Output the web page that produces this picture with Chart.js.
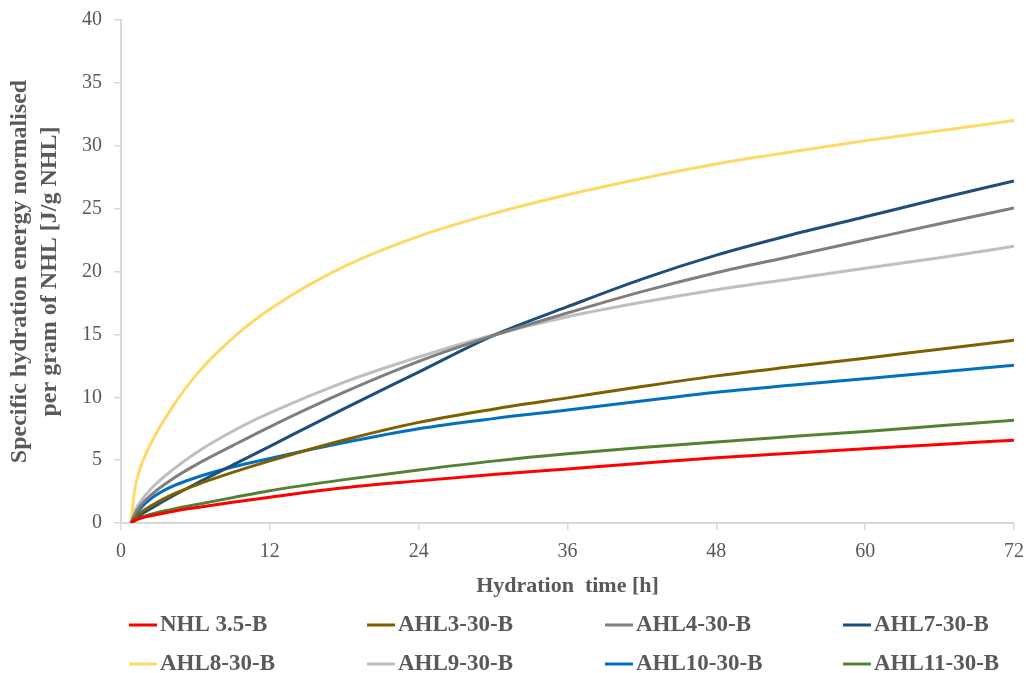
<!DOCTYPE html>
<html>
<head>
<meta charset="utf-8">
<script src="https://cdn.jsdelivr.net/npm/chart.js@4.4.0/dist/chart.umd.min.js"></script>
<style>
html,body{margin:0;padding:0;background:#ffffff;}
#wrap{width:1026px;height:673px;position:relative;}
</style>
</head>
<body>
<div id="wrap"><canvas id="c" width="1026" height="673"></canvas></div>
<script>
// ---- data ----
const hours   = [0.8, 1.1, 1.5, 2.5, 4, 6, 9, 12, 18, 24, 30, 36, 42, 48, 54, 60, 66, 72];
const nhl35   = [0, 0.17, 0.35, 0.6, 0.9, 1.22, 1.65, 2.05, 2.8, 3.35, 3.85, 4.3, 4.75, 5.18, 5.55, 5.9, 6.25, 6.59];
const ahl3    = [0, 0.35, 0.75, 1.4, 2.2, 3.0, 4.02, 4.94, 6.6, 8.0, 9.05, 9.95, 10.85, 11.7, 12.42, 13.1, 13.82, 14.53];
const ahl4    = [0, 0.7, 1.3, 2.3, 3.4, 4.6, 6.15, 7.65, 10.4, 12.85, 14.9, 16.7, 18.4, 19.9, 21.2, 22.5, 23.8, 25.05];
const ahl7    = [0, 0.25, 0.6, 1.2, 2.05, 3.1, 4.6, 6.1, 9.1, 12.0, 14.9, 17.2, 19.4, 21.3, 22.9, 24.35, 25.8, 27.2];
const ahl8    = [0, 2.6, 4.2, 6.5, 9.0, 11.7, 14.7, 17.0, 20.4, 22.8, 24.6, 26.1, 27.4, 28.55, 29.5, 30.4, 31.2, 32.0];
const ahl9    = [0, 0.9, 1.6, 2.8, 4.1, 5.55, 7.3, 8.75, 11.2, 13.2, 14.95, 16.4, 17.55, 18.55, 19.4, 20.25, 21.1, 22.0];
const ahl10   = [0, 0.55, 1.1, 2.0, 2.85, 3.6, 4.45, 5.13, 6.4, 7.5, 8.3, 8.98, 9.7, 10.4, 10.95, 11.48, 12.0, 12.54];
const ahl11   = [0, 0.2, 0.4, 0.72, 1.06, 1.45, 2.02, 2.57, 3.45, 4.22, 4.92, 5.5, 6.0, 6.45, 6.87, 7.28, 7.73, 8.18];

const seriesNames  = ['NHL 3.5-B', 'AHL3-30-B', 'AHL4-30-B', 'AHL7-30-B', 'AHL8-30-B', 'AHL9-30-B', 'AHL10-30-B', 'AHL11-30-B'];
const seriesValues = [nhl35, ahl3, ahl4, ahl7, ahl8, ahl9, ahl10, ahl11];
const seriesColors = ['#FF0000', '#7F6000', '#7F7F7F', '#1F4E79', '#FFD966', '#BFBFBF', '#0070C0', '#548235'];

const xTickValues = [0, 12, 24, 36, 48, 60, 72];
const yTickValues = [0, 5, 10, 15, 20, 25, 30, 35, 40];
const xTitle = 'Hydration  time [h]';
const yTitle = ['Specific hydration energy normalised', 'per gram of NHL [J/g NHL]'];

// ---- chart ----
const FONT = '"Liberation Serif", "Times New Roman", serif';
const TXT = '#595959';
const AXIS = '#D9D9D9';

const datasets = seriesNames.map((name, i) => ({
  label: name,
  data: hours.map((h, k) => ({x: h, y: seriesValues[i][k]})),
  borderColor: seriesColors[i],
  backgroundColor: seriesColors[i],
  borderWidth: 3,
  pointRadius: 0,
  fill: false,
  cubicInterpolationMode: 'monotone'
}));

const gridLegend = {
  id: 'gridLegend',
  afterDraw(chart) {
    const ctx = chart.ctx;
    const area = chart.chartArea;
    const colStep = (area.right - area.left) * 0.2665;
    const rowY = [area.bottom + 102, area.bottom + 141];
    chart.data.datasets.forEach((ds, i) => {
      const cx = area.left + 8 + colStep * (i % 4);
      const cy = rowY[Math.floor(i / 4)];
      ctx.save();
      ctx.strokeStyle = ds.borderColor;
      ctx.lineWidth = 3;
      ctx.beginPath();
      ctx.moveTo(cx, cy);
      ctx.lineTo(cx + 28, cy);
      ctx.stroke();
      ctx.fillStyle = TXT;
      ctx.font = 'bold 23px ' + FONT;
      ctx.textBaseline = 'middle';
      ctx.textAlign = 'left';
      ctx.fillText(ds.label, cx + 31, cy);
      ctx.restore();
    });
  }
};

new Chart(document.getElementById('c'), {
  type: 'line',
  data: {datasets},
  plugins: [gridLegend],
  options: {
    responsive: false,
    animation: false,
    devicePixelRatio: 1,
    layout: {padding: {top: 20, right: 12, left: 0, bottom: 0}},
    plugins: {legend: {display: false}, tooltip: {enabled: false}},
    scales: {
      x: {
        type: 'linear',
        min: 0, max: 72,
        afterFit(s) { s.height = 150; s.paddingLeft = 0; s.paddingRight = 0; },
        afterBuildTicks(s) { s.ticks = xTickValues.map(v => ({value: v})); },
        grid: {drawOnChartArea: false, drawTicks: true, tickLength: 7, color: AXIS, lineWidth: 1.5},
        border: {display: true, color: AXIS, width: 2},
        ticks: {color: TXT, font: {family: FONT, size: 20}, padding: 10, maxRotation: 0},
        title: {display: true, text: xTitle, color: TXT, font: {family: FONT, size: 22, weight: 'bold', lineHeight: 1.2}, padding: {top: 0, bottom: 73}}
      },
      y: {
        min: 0, max: 40,
        afterFit(s) { s.width = 121; s.paddingTop = 0; s.paddingBottom = 0; },
        afterBuildTicks(s) { s.ticks = yTickValues.map(v => ({value: v})); },
        grid: {drawOnChartArea: false, drawTicks: true, tickLength: 7, color: AXIS, lineWidth: 1.5},
        border: {display: true, color: AXIS, width: 2},
        ticks: {color: TXT, font: {family: FONT, size: 20}, padding: 12},
        title: {display: true, text: yTitle, color: TXT, font: {family: FONT, size: 24, weight: 'bold', lineHeight: 1.25}, padding: {top: 5, bottom: 0}}
      }
    }
  }
});
</script>
</body>
</html>
